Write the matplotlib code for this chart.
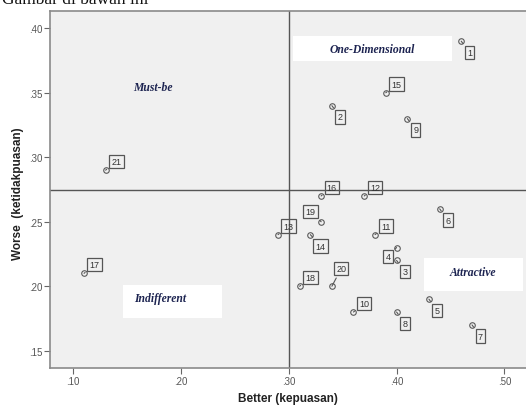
import matplotlib
matplotlib.use("Agg")
import matplotlib.pyplot as plt
from matplotlib.patches import Rectangle
from matplotlib.ticker import FuncFormatter

# attribute numbers and their Better / Worse coefficients
labels = [str(i) for i in range(1, 22)]
better = [0.46, 0.34, 0.40, 0.40, 0.43, 0.44, 0.47, 0.40, 0.41, 0.36, 0.38,
          0.37, 0.29, 0.32, 0.39, 0.33, 0.11, 0.31, 0.33, 0.34, 0.13]
worse = [0.39, 0.34, 0.22, 0.23, 0.19, 0.26, 0.17, 0.18, 0.33, 0.18, 0.24,
         0.27, 0.24, 0.24, 0.35, 0.27, 0.21, 0.20, 0.25, 0.20, 0.29]

better_mean = 0.30
worse_mean = 0.275

x_ticks = [0.10, 0.20, 0.30, 0.40, 0.50]
y_ticks = [0.15, 0.20, 0.25, 0.30, 0.35, 0.40]

# where each number box sits relative to its point (points)
up_right = (7.7, 6.2)
down_right = (6.0, -8.1)
label_offsets = {
    '1': down_right, '2': down_right, '3': down_right, '4': (-6.0, -6.5),
    '5': down_right, '6': down_right, '7': down_right, '8': down_right,
    '9': down_right, '10': up_right, '11': up_right, '12': up_right,
    '13': up_right, '14': (7.4, -8.3), '15': up_right, '16': up_right,
    '17': up_right, '18': up_right, '19': (-7.6, 7.4), '20': (6.7, 12.7),
    '21': up_right,
}

W, H = 526, 406
fig = plt.figure(figsize=(W / 100, H / 100), dpi=100)
ax = fig.add_axes([50 / W, 1 - 369 / H, 476 / W, 357 / H])
ax.set_facecolor('#f0f0f0')
ax.set_xlim(0.0784, 0.5201)
ax.set_ylim(0.1366, 0.4134)

for side in ['left', 'bottom', 'top']:
    ax.spines[side].set_color('#8a8a8a')
    ax.spines[side].set_linewidth(1.2)
ax.spines['right'].set_visible(False)

ax.axvline(better_mean, color='#555555', lw=1.0, zorder=1)
ax.axhline(worse_mean, color='#555555', lw=1.0, zorder=1)

ax.plot(better, worse, linestyle='none', marker='o', markersize=4.0,
        markerfacecolor='none', markeredgecolor='#5a5a5a',
        markeredgewidth=0.8, zorder=3)

for lab, bx, wy in zip(labels, better, worse):
    ax.annotate(lab, (bx, wy), xytext=label_offsets[lab],
                textcoords='offset points', ha='center', va='center',
                fontsize=6.5, family='Liberation Sans', color='#333333',
                bbox=dict(boxstyle='square,pad=0.25', fc='none',
                          ec='#555555', lw=0.9),
                arrowprops=dict(arrowstyle='-', color='#555555', lw=0.8,
                                shrinkA=1.8, shrinkB=0))

# quadrant captions
quad_style = dict(fontsize=8.4, family='Liberation Serif', weight='bold',
                  style='italic', color='#1c2350', ha='center', va='center',
                  zorder=5)
ax.add_patch(Rectangle((0.3042, 0.3749), 0.147, 0.0189, fc='white',
                       ec='none', zorder=4))
ax.text(0.3777, 0.3843, 'One-Dimensional', **quad_style)
ax.text(0.1735, 0.3542, 'Must-be', **quad_style)
ax.add_patch(Rectangle((0.1464, 0.1756), 0.0919, 0.0256, fc='white',
                       ec='none', zorder=4))
ax.text(0.1805, 0.1905, 'Indifferent', **quad_style)
ax.add_patch(Rectangle((0.4255, 0.1961), 0.0916, 0.0258, fc='white',
                       ec='none', zorder=4))
ax.text(0.4707, 0.2108, 'Attractive', **quad_style)

fmt = FuncFormatter(lambda v, p: ('%.2f' % v).lstrip('0'))
ax.set_xticks(x_ticks)
ax.set_yticks(y_ticks)
ax.xaxis.set_major_formatter(fmt)
ax.yaxis.set_major_formatter(fmt)
ax.tick_params(length=4, width=0.8, color='#666666', labelsize=7,
               labelcolor='#555555', pad=1.5)
for t in ax.get_xticklabels() + ax.get_yticklabels():
    t.set_family('Liberation Sans')

ax.set_xlabel('Better (kepuasan)', fontsize=8.5, weight='bold',
              family='Liberation Sans', color='#222222')
ax.set_ylabel('Worse  (ketidakpuasan)', fontsize=8.5, weight='bold',
              family='Liberation Sans', color='#222222')
ax.xaxis.set_label_coords(0.5, (369 - 393) / 357)
ax.yaxis.set_label_coords((24 - 50) / 476, 0.49)

# cut-off caption line above the chart
fig.text(0.004, 1 - 4 / H, 'Gambar di bawah ini', fontsize=12.5,
         family='Liberation Serif', va='baseline', ha='left', color='#111111')

fig.savefig('out.png', dpi=100)
